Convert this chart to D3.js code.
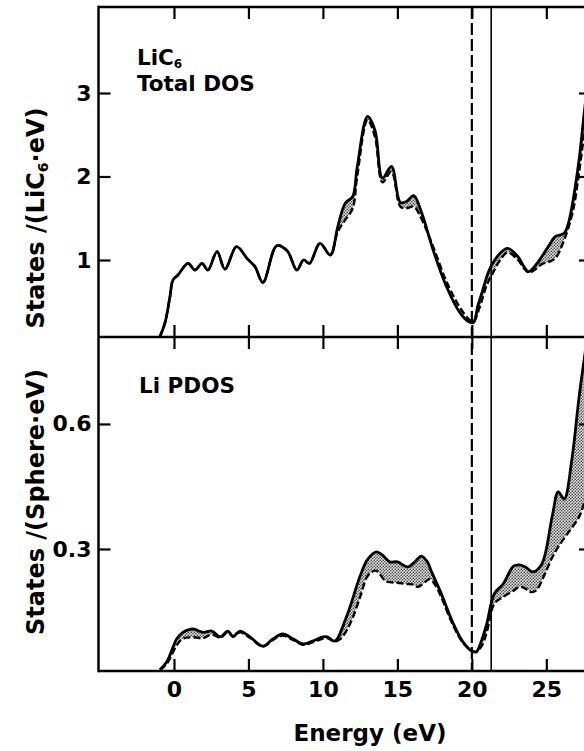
<!DOCTYPE html>
<html>
<head>
<meta charset="utf-8">
<script src="https://cdn.jsdelivr.net/npm/d3@7"></script>
<style>
  body { margin: 0; background: #fff; }
  text { font-family: "DejaVu Sans", "Liberation Sans", Arial, sans-serif; font-weight: bold; fill: #000; }
</style>
</head>
<body>
<div id="wrapper"></div>
<script>
// ---- data (energy in eV, states) ----
const xTicks = [0, 5, 10, 15, 20, 25]
const topYTicks = [1, 2, 3]
const bottomYTicks = [0.3, 0.6]
const fermiEnergy = 20.0
const edgeEnergy = 21.3

// LiC6 total DOS, solid curve
const totalSolid = [
  [-0.95, 0.08], [-0.6, 0.25], [-0.27, 0.56], [-0.07, 0.76], [0.27, 0.82], [0.94, 0.96],
  [1.41, 0.88], [1.88, 0.96], [2.28, 0.88], [2.89, 1.10], [3.42, 0.89], [4.2, 1.16],
  [4.9, 1.02], [5.44, 0.92], [5.97, 0.73], [6.9, 1.17], [7.6, 1.11], [8.25, 0.88],
  [8.7, 1.0], [9.1, 0.96], [9.8, 1.20], [10.5, 1.06], [11.0, 1.40], [11.5, 1.68],
  [12.0, 1.76], [12.3, 2.11], [13.0, 2.72], [13.5, 2.55], [14.0, 1.98], [14.6, 2.12],
  [15.2, 1.69], [15.6, 1.70], [16.1, 1.77], [16.6, 1.58], [17.4, 1.12], [18.3, 0.68],
  [19.2, 0.37], [19.8, 0.26], [20.1, 0.25], [20.4, 0.45], [20.7, 0.62], [21.1, 0.85],
  [21.4, 0.96], [21.9, 1.08], [22.4, 1.14], [23.1, 1.04], [23.5, 0.92], [23.8, 0.86],
  [24.2, 0.92], [24.7, 1.04], [25.2, 1.18], [25.6, 1.28], [26.2, 1.32], [26.5, 1.45],
  [26.8, 1.72], [27.2, 2.20], [27.6, 2.85], [28.0, 3.40]
]
// LiC6 total DOS, dashed curve
const totalDashed = [
  [-0.95, 0.08], [-0.6, 0.25], [-0.27, 0.56], [-0.07, 0.76], [0.27, 0.82], [0.94, 0.96],
  [1.41, 0.88], [1.88, 0.96], [2.28, 0.88], [2.89, 1.10], [3.42, 0.89], [4.2, 1.16],
  [4.9, 1.02], [5.44, 0.92], [5.97, 0.73], [6.9, 1.17], [7.6, 1.11], [8.25, 0.88],
  [8.7, 1.0], [9.1, 0.96], [9.8, 1.20], [10.5, 1.06], [11.0, 1.34], [11.5, 1.48],
  [12.0, 1.62], [12.3, 2.0], [13.0, 2.68], [13.5, 2.47], [14.0, 1.93], [14.6, 2.06],
  [15.2, 1.64], [15.6, 1.62], [16.1, 1.64], [16.6, 1.50], [17.4, 1.16], [18.3, 0.74],
  [19.2, 0.43], [19.8, 0.29], [20.1, 0.26], [20.5, 0.42], [21.0, 0.70], [21.4, 0.84],
  [21.9, 1.0], [22.4, 1.09], [23.1, 1.0], [23.5, 0.9], [23.8, 0.85], [24.2, 0.88],
  [24.7, 0.95], [25.2, 0.98], [25.6, 1.02], [26.2, 1.24], [26.8, 1.6], [27.2, 2.05],
  [27.6, 2.6], [28.0, 3.15]
]
// Li partial DOS, solid curve
const liSolid = [
  [-0.94, 0.01], [-0.47, 0.03], [0.2, 0.085], [0.6, 0.10], [1.28, 0.108], [1.95, 0.10],
  [2.55, 0.103], [3.09, 0.089], [3.62, 0.103], [3.96, 0.09], [4.43, 0.103], [5.1, 0.089],
  [5.97, 0.067], [6.64, 0.084], [7.3, 0.096], [8.0, 0.084], [8.66, 0.072], [9.3, 0.079],
  [10.0, 0.089], [10.3, 0.089], [10.8, 0.079], [11.6, 0.139], [12.5, 0.235], [13.0, 0.275],
  [13.6, 0.293], [14.0, 0.285], [14.5, 0.269], [15.0, 0.269], [15.7, 0.257], [16.2, 0.27],
  [16.6, 0.283], [17.0, 0.27], [17.3, 0.245], [17.9, 0.197], [18.7, 0.125], [19.4, 0.077],
  [20.0, 0.055], [20.3, 0.053], [20.6, 0.075], [21.0, 0.12], [21.5, 0.192], [22.1, 0.216],
  [22.8, 0.259], [23.2, 0.262], [23.6, 0.257], [24.1, 0.245], [24.7, 0.264], [25.4, 0.379],
  [25.8, 0.437], [26.2, 0.42], [26.7, 0.511], [27.2, 0.665], [27.6, 0.77], [28.0, 0.88]
]
// Li partial DOS, dashed curve
const liDashed = [
  [-0.94, 0.01], [-0.47, 0.025], [0.2, 0.07], [0.6, 0.085], [1.28, 0.088], [1.95, 0.086],
  [2.55, 0.095], [3.09, 0.087], [3.62, 0.10], [3.96, 0.09], [4.43, 0.1], [5.1, 0.087],
  [5.97, 0.066], [6.64, 0.082], [7.3, 0.092], [8.0, 0.082], [8.66, 0.07], [9.3, 0.076],
  [10.0, 0.085], [10.3, 0.086], [10.8, 0.078], [11.2, 0.085], [11.6, 0.105], [12.0, 0.135],
  [12.5, 0.185], [13.0, 0.235], [13.5, 0.248], [13.7, 0.245], [14.2, 0.223], [14.6, 0.22],
  [15.0, 0.219], [15.6, 0.216], [16.0, 0.215], [16.4, 0.209], [16.9, 0.222], [17.2, 0.228],
  [17.6, 0.21], [18.0, 0.18], [18.7, 0.12], [19.4, 0.075], [20.0, 0.056], [20.3, 0.053],
  [20.7, 0.07], [21.0, 0.10], [21.5, 0.168], [22.1, 0.185], [22.8, 0.20], [23.2, 0.209],
  [23.6, 0.205], [23.9, 0.197], [24.3, 0.20], [24.9, 0.24], [25.4, 0.28], [25.8, 0.305],
  [26.4, 0.336], [27.2, 0.377], [27.6, 0.42], [28.0, 0.50]
]

const energyAccessor = d => d[0]
const statesAccessor = d => d[1]

// ---- dimensions ----
const dimensions = {
  width: 584,
  height: 751,
  left: 98.5,
  right: 591,
  top: 7,
  middle: 337,
  bottom: 671,
}

const svg = d3.select("#wrapper")
  .append("svg")
    .attr("width", dimensions.width)
    .attr("height", dimensions.height)

const defs = svg.append("defs")

// stippled fill
const stipple = defs.append("pattern")
    .attr("id", "stipple")
    .attr("patternUnits", "userSpaceOnUse")
    .attr("width", 3)
    .attr("height", 3)
stipple.append("rect").attr("width", 3).attr("height", 3).attr("fill", "#e0e0e0")
stipple.append("circle").attr("cx", 0.8).attr("cy", 0.8).attr("r", 0.8).attr("fill", "#444")
stipple.append("circle").attr("cx", 2.3).attr("cy", 2.3).attr("r", 0.8).attr("fill", "#444")

// ---- scales ----
const xScale = d3.scaleLinear()
  .domain([-5, 28])
  .range([99.5, 591])

const yTopScale = d3.scaleLinear()
  .domain([0, 4])
  .range([343.5, 9.5])

const yBottomScale = d3.scaleLinear()
  .domain([0, 0.8])
  .range([674, 340.6])

function drawPanel(name, y0, y1, yScale, solid, dashed, yTicks) {
  defs.append("clipPath").attr("id", `panel-${name}`)
    .append("rect")
      .attr("x", dimensions.left)
      .attr("y", y0)
      .attr("width", dimensions.right - dimensions.left)
      .attr("height", y1 - y0)

  const lineGenerator = d3.line()
    .curve(d3.curveCatmullRom)
    .x(d => xScale(energyAccessor(d)))
    .y(d => yScale(statesAccessor(d)))

  // region above the dashed curve, used to keep only solid > dashed
  const aboveDashed = d3.area()
    .curve(d3.curveCatmullRom)
    .x(d => xScale(energyAccessor(d)))
    .y0(y0 - 20)
    .y1(d => yScale(statesAccessor(d)))

  defs.append("clipPath").attr("id", `above-${name}`)
    .append("path")
      .attr("d", aboveDashed(dashed))

  const belowSolid = d3.area()
    .curve(d3.curveCatmullRom)
    .x(d => xScale(energyAccessor(d)))
    .y0(y1 + 20)
    .y1(d => yScale(statesAccessor(d)))

  const bounds = svg.append("g")
      .attr("clip-path", `url(#panel-${name})`)

  bounds.append("g")
      .attr("clip-path", `url(#above-${name})`)
    .append("path")
      .attr("d", belowSolid(solid))
      .attr("fill", "url(#stipple)")

  bounds.append("path")
      .attr("d", lineGenerator(dashed))
      .attr("fill", "none")
      .attr("stroke", "#000")
      .attr("stroke-width", 2.4)
      .attr("stroke-dasharray", "7,3")

  bounds.append("path")
      .attr("d", lineGenerator(solid))
      .attr("fill", "none")
      .attr("stroke", "#000")
      .attr("stroke-width", 2.8)
      .attr("stroke-linejoin", "round")

  // ticks on every side, pointing inward
  const topAxis = svg.append("g")
      .attr("transform", `translate(0, ${y0})`)
      .call(d3.axisBottom(xScale).tickValues(xTicks).tickSizeInner(12).tickSizeOuter(0).tickFormat(""))
  const bottomAxis = svg.append("g")
      .attr("transform", `translate(0, ${y1})`)
      .call(d3.axisTop(xScale).tickValues(xTicks).tickSizeInner(12).tickSizeOuter(0).tickFormat(""))
  const leftAxis = svg.append("g")
      .attr("transform", `translate(${dimensions.left}, 0)`)
      .call(d3.axisLeft(yScale).tickValues(yTicks).tickSizeInner(-12).tickSizeOuter(0).tickPadding(7)
        .tickFormat(d3.format(yTicks[0] < 1 ? ".1f" : "d")))
  const rightAxis = svg.append("g")
      .attr("transform", `translate(${dimensions.right}, 0)`)
      .call(d3.axisRight(yScale).tickValues(yTicks).tickSizeInner(-12).tickSizeOuter(0).tickFormat(""))

  ;[topAxis, bottomAxis, leftAxis, rightAxis].forEach(axis => {
    axis.select(".domain").remove()
    axis.selectAll("line").attr("stroke", "#000").attr("stroke-width", 2.2)
  })
  leftAxis.selectAll("text")
      .attr("font-size", 22)
      .attr("font-family", null)
}

drawPanel("top", dimensions.top, dimensions.middle, yTopScale, totalSolid, totalDashed, topYTicks)
drawPanel("bottom", dimensions.middle, dimensions.bottom, yBottomScale, liSolid, liDashed, bottomYTicks)

// energy labels under the bottom panel
const xAxis = svg.append("g")
    .attr("transform", `translate(0, ${dimensions.bottom})`)
    .call(d3.axisBottom(xScale).tickValues(xTicks).tickSize(0).tickPadding(10).tickFormat(d3.format("d")))
xAxis.select(".domain").remove()
xAxis.selectAll("text")
    .attr("font-size", 22)
    .attr("font-family", null)

// Fermi level (dashed) and edge (solid) markers
svg.append("line")
    .attr("x1", xScale(fermiEnergy)).attr("x2", xScale(fermiEnergy))
    .attr("y1", dimensions.top).attr("y2", dimensions.bottom)
    .attr("stroke", "#000")
    .attr("stroke-width", 2.2)
    .attr("stroke-dasharray", "12,4")

svg.append("line")
    .attr("x1", xScale(edgeEnergy)).attr("x2", xScale(edgeEnergy))
    .attr("y1", dimensions.top).attr("y2", dimensions.bottom)
    .attr("stroke", "#000")
    .attr("stroke-width", 1.6)

// frame
const frame = [
  [dimensions.left, dimensions.top, dimensions.right, dimensions.top],
  [dimensions.left, dimensions.middle, dimensions.right, dimensions.middle],
  [dimensions.left, dimensions.bottom, dimensions.right, dimensions.bottom],
  [dimensions.left, dimensions.top - 1.25, dimensions.left, dimensions.bottom + 1.25],
]
svg.append("g").selectAll("line")
  .data(frame)
  .join("line")
    .attr("x1", d => d[0]).attr("y1", d => d[1])
    .attr("x2", d => d[2]).attr("y2", d => d[3])
    .attr("stroke", "#000")
    .attr("stroke-width", 2.5)

// panel labels
const lic6 = svg.append("text")
    .attr("x", 137).attr("y", 65)
    .attr("font-size", 21.5)
lic6.append("tspan").text("LiC")
lic6.append("tspan").text("6").attr("font-size", 12).attr("dy", 3)

svg.append("text")
    .attr("x", 137).attr("y", 91)
    .attr("font-size", 21.5)
    .text("Total DOS")

svg.append("text")
    .attr("x", 139).attr("y", 393)
    .attr("font-size", 21.5)
    .text("Li PDOS")

// axis titles
svg.append("text")
    .attr("x", 370).attr("y", 741)
    .attr("text-anchor", "middle")
    .attr("font-size", 23)
    .text("Energy (eV)")

const topTitle = svg.append("text")
    .attr("transform", "translate(44, 218) rotate(-90)")
    .attr("text-anchor", "middle")
    .attr("font-size", 24)
topTitle.append("tspan").text("States /(LiC")
topTitle.append("tspan").text("6").attr("font-size", 14).attr("dy", 4)
topTitle.append("tspan").text("·eV)").attr("dy", -4)

svg.append("text")
    .attr("transform", "translate(44, 502) rotate(-90)")
    .attr("text-anchor", "middle")
    .attr("font-size", 24)
    .text("States /(Sphere·eV)")
</script>
</body>
</html>
